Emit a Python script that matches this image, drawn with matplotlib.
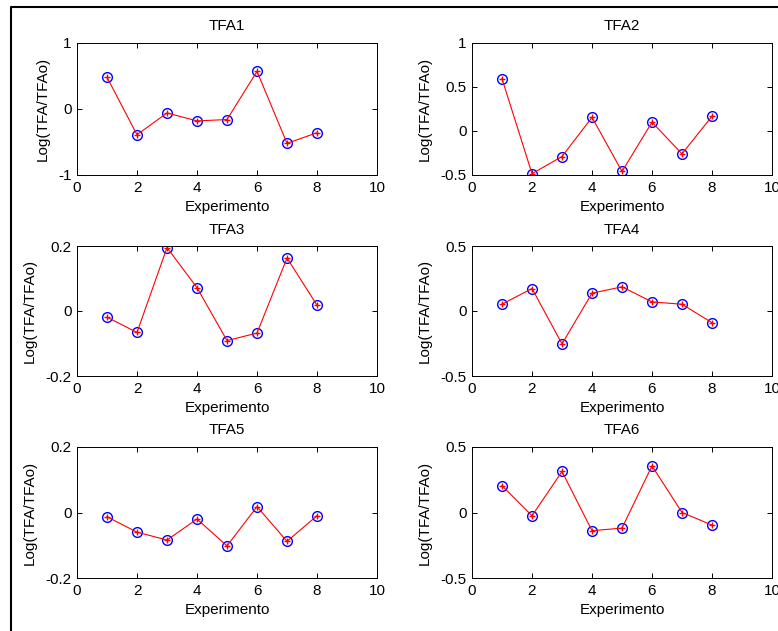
import numpy as np
import matplotlib
matplotlib.use("Agg")
import matplotlib.pyplot as plt
from matplotlib.lines import Line2D

plt.rcParams['font.family'] = ['Liberation Sans', 'DejaVu Sans']
plt.rcParams['font.size'] = 11

# experiment numbers
exper = [1, 2, 3, 4, 5, 6, 7, 8]

# log(TFA/TFAo) for each TFA
tfa1 = [0.48, -0.39, -0.06, -0.18, -0.16, 0.57, -0.52, -0.36]
tfa2 = [0.595, -0.485, -0.29, 0.155, -0.46, 0.10, -0.26, 0.168]
tfa3 = [-0.019, -0.066, 0.195, 0.072, -0.091, -0.068, 0.163, 0.018]
tfa4 = [0.052, 0.173, -0.253, 0.137, 0.186, 0.07, 0.052, -0.09]
tfa5 = [-0.013, -0.06, -0.084, -0.02, -0.102, 0.018, -0.088, -0.010]
tfa6 = [0.205, -0.025, 0.313, -0.139, -0.119, 0.356, 0.0, -0.096]

titles = ['TFA1', 'TFA2', 'TFA3', 'TFA4', 'TFA5', 'TFA6']
series = [tfa1, tfa2, tfa3, tfa4, tfa5, tfa6]
ylims = [(-1, 1), (-0.5, 1), (-0.2, 0.2), (-0.5, 0.5), (-0.2, 0.2), (-0.5, 0.5)]
yticks = [[-1, 0, 1], [-0.5, 0, 0.5, 1], [-0.2, 0, 0.2],
          [-0.5, 0, 0.5], [-0.2, 0, 0.2], [-0.5, 0, 0.5]]
yticklabels = [['-1', '0', '1'], ['-0.5', '0', '0.5', '1'], ['-0.2', '0', '0.2'],
               ['-0.5', '0', '0.5'], ['-0.2', '0', '0.2'], ['-0.5', '0', '0.5']]

W, H = 778, 631
fig = plt.figure(figsize=(W / 100, H / 100), dpi=100)

lefts = [77, 472]
width = 300
rows = [(43, 175), (246, 376), (447, 578)]

for i in range(6):
    r, c = divmod(i, 2)
    top, bot = rows[r]
    ax = fig.add_axes([lefts[c] / W, 1 - bot / H, width / W, (bot - top) / H])
    ax.plot(exper, series[i], 'o', ms=7, mfc='none', mec='blue', mew=1)
    ax.plot(exper, series[i], 'r-+', lw=0.8, ms=5, mew=1)
    ax.set_xlim(0, 10)
    ax.set_ylim(*ylims[i])
    ax.set_xticks([0, 2, 4, 6, 8, 10])
    ax.set_yticks(yticks[i])
    ax.set_yticklabels(yticklabels[i])
    ax.tick_params(direction='in', top=True, right=True, length=3.5, width=0.7, pad=4,
                   labelsize=11)
    for sp in ax.spines.values():
        sp.set_linewidth(0.7)
    ax.set_title(titles[i], fontsize=11, pad=9)
    ax.set_xlabel('Experimento', fontsize=11, labelpad=4)
    ax.set_ylabel('Log(TFA/TFAo)', fontsize=11, labelpad=6)

# outer border (left and top only, rest is cropped)
fig.add_artist(Line2D([11 / W, 11 / W, 1.0], [0.0, 1 - 7 / H, 1 - 7 / H],
                      color='black', lw=1.5, transform=fig.transFigure))

fig.savefig('out.png', dpi=100)
